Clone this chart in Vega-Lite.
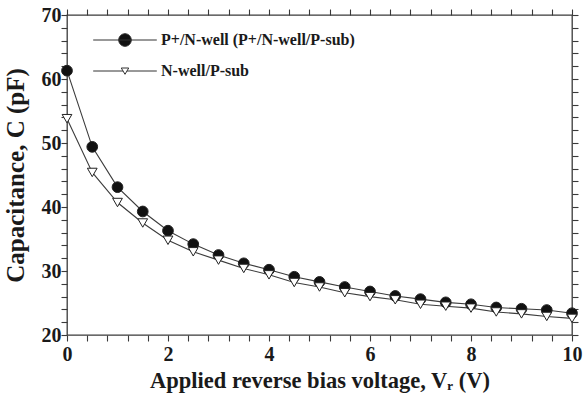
{
  "$schema": "https://vega.github.io/schema/vega-lite/v6.json",
  "width": 505,
  "height": 320,
  "autosize": "none",
  "padding": {"left": 67, "top": 15, "right": 12, "bottom": 63},
  "background": "white",
  "config": {
    "font": "Liberation Serif",
    "view": {"stroke": "#3a3a3a", "strokeWidth": 1.3},
    "axis": {
      "grid": false,
      "domain": false,
      "tickSize": 6,
      "tickColor": "#3a3a3a",
      "tickWidth": 1.1,
      "labelFont": "Liberation Serif",
      "labelFontWeight": "bold",
      "labelFontSize": 20,
      "labelColor": "#1a1a1a",
      "labelOverlap": false,
      "labelFlush": false,
      "titleFont": "Liberation Serif",
      "titleFontWeight": "bold",
      "titleColor": "#1a1a1a"
    },
    "legend": {
      "orient": "none",
      "legendX": 50,
      "legendY": 17,
      "padding": 0,
      "symbolSize": 144,
      "symbolOpacity": 1,
      "symbolStrokeWidth": 1,
      "labelOffset": 28,
      "rowPadding": 14,
      "labelFont": "Liberation Serif",
      "labelFontSize": 16,
      "labelFontWeight": "bold",
      "labelColor": "#1a1a1a",
      "labelLimit": 400
    }
  },
  "data": {
    "values": [
      {"v": 0, "C": 61.3, "series": "P+/N-well (P+/N-well/P-sub)"},
      {"v": 0.5, "C": 49.4, "series": "P+/N-well (P+/N-well/P-sub)"},
      {"v": 1, "C": 43.1, "series": "P+/N-well (P+/N-well/P-sub)"},
      {"v": 1.5, "C": 39.3, "series": "P+/N-well (P+/N-well/P-sub)"},
      {"v": 2, "C": 36.3, "series": "P+/N-well (P+/N-well/P-sub)"},
      {"v": 2.5, "C": 34.2, "series": "P+/N-well (P+/N-well/P-sub)"},
      {"v": 3, "C": 32.5, "series": "P+/N-well (P+/N-well/P-sub)"},
      {"v": 3.5, "C": 31.2, "series": "P+/N-well (P+/N-well/P-sub)"},
      {"v": 4, "C": 30.2, "series": "P+/N-well (P+/N-well/P-sub)"},
      {"v": 4.5, "C": 29.1, "series": "P+/N-well (P+/N-well/P-sub)"},
      {"v": 5, "C": 28.3, "series": "P+/N-well (P+/N-well/P-sub)"},
      {"v": 5.5, "C": 27.5, "series": "P+/N-well (P+/N-well/P-sub)"},
      {"v": 6, "C": 26.8, "series": "P+/N-well (P+/N-well/P-sub)"},
      {"v": 6.5, "C": 26.1, "series": "P+/N-well (P+/N-well/P-sub)"},
      {"v": 7, "C": 25.6, "series": "P+/N-well (P+/N-well/P-sub)"},
      {"v": 7.5, "C": 25.1, "series": "P+/N-well (P+/N-well/P-sub)"},
      {"v": 8, "C": 24.8, "series": "P+/N-well (P+/N-well/P-sub)"},
      {"v": 8.5, "C": 24.3, "series": "P+/N-well (P+/N-well/P-sub)"},
      {"v": 9, "C": 24.1, "series": "P+/N-well (P+/N-well/P-sub)"},
      {"v": 9.5, "C": 23.9, "series": "P+/N-well (P+/N-well/P-sub)"},
      {"v": 10, "C": 23.4, "series": "P+/N-well (P+/N-well/P-sub)"},
      {"v": 0, "C": 53.8, "series": "N-well/P-sub"},
      {"v": 0.5, "C": 45.4, "series": "N-well/P-sub"},
      {"v": 1, "C": 40.7, "series": "N-well/P-sub"},
      {"v": 1.5, "C": 37.5, "series": "N-well/P-sub"},
      {"v": 2, "C": 34.8, "series": "N-well/P-sub"},
      {"v": 2.5, "C": 33.0, "series": "N-well/P-sub"},
      {"v": 3, "C": 31.7, "series": "N-well/P-sub"},
      {"v": 3.5, "C": 30.4, "series": "N-well/P-sub"},
      {"v": 4, "C": 29.4, "series": "N-well/P-sub"},
      {"v": 4.5, "C": 28.2, "series": "N-well/P-sub"},
      {"v": 5, "C": 27.5, "series": "N-well/P-sub"},
      {"v": 5.5, "C": 26.6, "series": "N-well/P-sub"},
      {"v": 6, "C": 26.0, "series": "N-well/P-sub"},
      {"v": 6.5, "C": 25.5, "series": "N-well/P-sub"},
      {"v": 7, "C": 24.8, "series": "N-well/P-sub"},
      {"v": 7.5, "C": 24.5, "series": "N-well/P-sub"},
      {"v": 8, "C": 24.2, "series": "N-well/P-sub"},
      {"v": 8.5, "C": 23.6, "series": "N-well/P-sub"},
      {"v": 9, "C": 23.3, "series": "N-well/P-sub"},
      {"v": 9.5, "C": 22.9, "series": "N-well/P-sub"},
      {"v": 10, "C": 22.6, "series": "N-well/P-sub"}
    ]
  },
  "layer": [
    {
      "mark": {"type": "line", "color": "#3c3c3c", "strokeWidth": 1.1},
      "encoding": {
        "x": {
          "field": "v",
          "type": "quantitative",
          "scale": {"domain": [0, 10], "nice": false, "zero": false},
          "axis": {
            "orient": "bottom",
            "values": [0, 0.4, 0.8, 1.2, 1.6, 2, 2.4, 2.8, 3.2, 3.6, 4, 4.4, 4.8, 5.2, 5.6, 6, 6.4, 6.8, 7.2, 7.6, 8, 8.4, 8.8, 9.2, 9.6, 10],
            "labelExpr": "datum.value % 2 === 0 ? '' + datum.value : ''",
            "labelPadding": 3,
            "title": "Applied reverse bias voltage, Vᵣ (V)",
            "titleFontSize": 22.5,
            "titlePadding": 5,
            "encode": {"ticks": {"update": {"y2": {"signal": "datum.value % 2 === 0 ? -6 : -3"}}}}
          }
        },
        "y": {
          "field": "C",
          "type": "quantitative",
          "scale": {"domain": [20, 70], "nice": false, "zero": false},
          "axis": {
            "orient": "left",
            "values": [20, 22, 24, 26, 28, 30, 32, 34, 36, 38, 40, 42, 44, 46, 48, 50, 52, 54, 56, 58, 60, 62, 64, 66, 68, 70],
            "labelExpr": "datum.value % 10 === 0 ? '' + datum.value : ''",
            "labelPadding": 0,
            "title": "Capacitance, C (pF)",
            "titleFontSize": 25,
            "titlePadding": 13,
            "encode": {"ticks": {"update": {"x2": {"signal": "datum.value % 10 === 0 ? 6 : 3"}}}}
          }
        },
        "detail": {"field": "series"}
      }
    },
    {
      "transform": [{"filter": "datum.series === 'P+/N-well (P+/N-well/P-sub)'"}],
      "mark": {"type": "point", "shape": "circle", "filled": true, "fill": "#111111", "stroke": "#222222", "strokeWidth": 1, "opacity": 1, "size": 115},
      "encoding": {
        "x": {
          "field": "v",
          "type": "quantitative",
          "axis": {
            "orient": "top",
            "values": [0, 0.4, 0.8, 1.2, 1.6, 2, 2.4, 2.8, 3.2, 3.6, 4, 4.4, 4.8, 5.2, 5.6, 6, 6.4, 6.8, 7.2, 7.6, 8, 8.4, 8.8, 9.2, 9.6, 10],
            "labels": false,
            "title": null,
            "encode": {"ticks": {"update": {"y2": {"signal": "datum.value % 2 === 0 ? 6 : 3"}}}}
          }
        },
        "y": {
          "field": "C",
          "type": "quantitative",
          "axis": {
            "orient": "right",
            "values": [20, 22, 24, 26, 28, 30, 32, 34, 36, 38, 40, 42, 44, 46, 48, 50, 52, 54, 56, 58, 60, 62, 64, 66, 68, 70],
            "labels": false,
            "title": null,
            "encode": {"ticks": {"update": {"x2": {"signal": "datum.value % 10 === 0 ? -6 : -3"}}}}
          }
        }
      }
    },
    {
      "transform": [{"filter": "datum.series === 'N-well/P-sub'"}],
      "mark": {"type": "point", "shape": "triangle-down", "filled": true, "fill": "white", "stroke": "#222222", "strokeWidth": 1, "opacity": 1, "size": 95},
      "encoding": {
        "x": {"field": "v", "type": "quantitative", "axis": null},
        "y": {"field": "C", "type": "quantitative", "axis": null}
      }
    },
    {
      "mark": {"type": "point", "filled": true, "stroke": "#333333", "strokeWidth": 1, "opacity": 0},
      "encoding": {
        "x": {"field": "v", "type": "quantitative", "axis": null},
        "y": {"field": "C", "type": "quantitative", "axis": null},
        "shape": {
          "field": "series",
          "type": "nominal",
          "scale": {
            "domain": ["P+/N-well (P+/N-well/P-sub)", "N-well/P-sub"],
            "range": [
              "M-5.3,0H5.3M1.05,0A1.05,1.05,0,1,1,-1.05,0A1.05,1.05,0,1,1,1.05,0Z",
              "M-5.3,0H-0.32M0.32,0H5.3M-0.62,-0.5L0.62,-0.5L0,0.55Z"
            ]
          },
          "legend": {"title": null}
        },
        "fill": {
          "field": "series",
          "type": "nominal",
          "scale": {"domain": ["P+/N-well (P+/N-well/P-sub)", "N-well/P-sub"], "range": ["#111111", "white"]},
          "legend": {"title": null}
        }
      }
    }
  ],
  "resolve": {"axis": {"x": "independent", "y": "independent"}}
}
